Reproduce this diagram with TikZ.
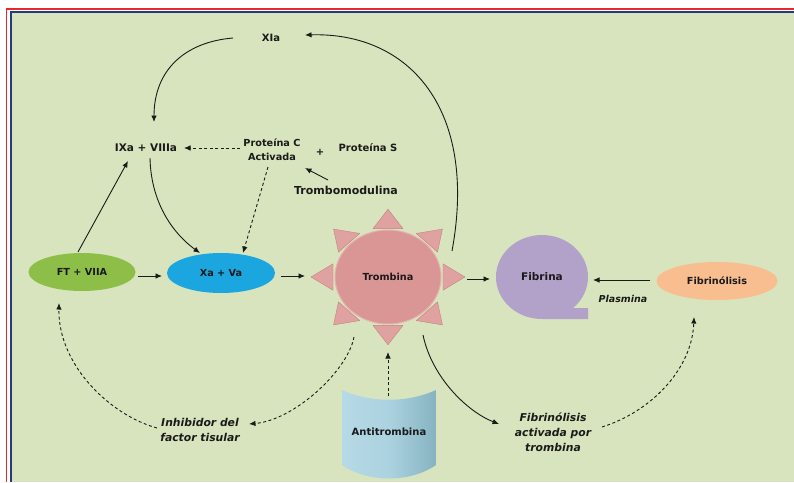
\documentclass[tikz,border=0pt]{standalone}
\usepackage{fontspec}
\setmainfont{DejaVu Sans}
\usetikzlibrary{shapes.geometric,arrows.meta}
\definecolor{bg}{HTML}{D7E4BD}
\definecolor{frred}{HTML}{E8262B}
\definecolor{frblue}{HTML}{1F3D7A}
\definecolor{ftg}{HTML}{8DBE48}
\definecolor{xab}{HTML}{1BA6E0}
\definecolor{trp}{HTML}{D99694}
\definecolor{trpl}{HTML}{E7B1AF}
\definecolor{rayc}{HTML}{E0A2A1}
\definecolor{rayd}{HTML}{C28281}
\definecolor{fib}{HTML}{B2A1C8}
\definecolor{fol}{HTML}{F9BE8F}
\definecolor{atl}{HTML}{B6DAE6}
\definecolor{atm}{HTML}{ABD2DF}
\definecolor{atd}{HTML}{86B3C2}
\definecolor{ink}{HTML}{1A1A1A}
\tikzset{
  lbl/.style={font=\fontsize{10}{11}\selectfont\bfseries, text=ink, inner sep=0pt},
  biglbl/.style={font=\fontsize{11}{12}\selectfont\bfseries, text=ink, inner sep=0pt},
  note/.style={font=\fontsize{10.8}{15}\selectfont\bfseries\itshape, text=ink, inner sep=0pt, align=center},
  smallnote/.style={font=\fontsize{9.5}{11}\selectfont\bfseries\itshape, text=ink, inner sep=0pt},
  oval/.style={ellipse, inner sep=0pt, font=\fontsize{9.7}{11}\selectfont\bfseries, text=ink},
  arr/.style={draw=ink, line width=0.9pt, -{Latex[length=6.5pt,width=5.5pt]}},
  darr/.style={arr, dash pattern=on 3pt off 2.5pt},
  raytri/.style={fill=rayc, draw=rayd, line width=0.4pt, line join=round},
}
\begin{document}
\begin{tikzpicture}[x=1pt,y=1pt]
\useasboundingbox (0,0) rectangle (794,-482);
\fill[white] (0,0) rectangle (794,-482);
% frame
\fill[bg] (12,-13.4) rectangle (794,-482);
\draw[frred, line width=1.6pt] (6.5,-482) -- (6.5,-8.7) -- (794,-8.7);
\draw[frblue, line width=2.4pt] (10.8,-482) -- (10.8,-12.2) -- (794,-12.2);

% text labels
\node[lbl] (xia) at (271,-38) {XIa};
\node[lbl, font=\fontsize{10.5}{11}\selectfont\bfseries] (ix) at (146,-148) {IXa + VIIIa};
\node[lbl, align=center, font=\fontsize{9.7}{14}\selectfont\bfseries] (pc) at (272,-150) {Proteína C\\Activada};
\node[lbl] (plus) at (320,-152) {+};
\node[lbl] (ps) at (368,-148) {Proteína S};
\node[biglbl] (tm) at (346,-190) {Trombomodulina};

% ovals
\node[oval, fill=ftg, minimum width=107pt, minimum height=38pt] (ft) at (82,-272) {FT + VIIA};
\node[oval, fill=xab, minimum width=108pt, minimum height=40pt] (xa) at (221,-273) {Xa + Va};
\node[oval, fill=fol, minimum width=121pt, minimum height=38pt] (fo) at (717,-281) {Fibrinólisis};

% sun (Trombina)
\begin{scope}[shift={(388,-277)}, yscale=0.88]
  \foreach \a in {0,45,...,315}{
    \draw[raytri, rotate=\a] (77,0) -- (55,15) -- (55,-15) -- cycle;
  }
\end{scope}
\node[ellipse, fill=trp, draw=trpl, line width=1pt, minimum width=106pt, minimum height=94pt, inner sep=0pt,
      font=\fontsize{9.7}{11}\selectfont\bfseries, text=ink] (tr) at (388,-277) {Trombina};

% Fibrina shape
\fill[fib] (588,-319) -- (542,-319) arc[start angle=270, end angle=-47.6, x radius=46, y radius=42] -- (588,-308) -- cycle;
\node[lbl, font=\fontsize{10.5}{12}\selectfont\bfseries] (fb) at (542,-277) {Fibrina};

% Antitrombina cylinder
\shade[left color=atl, right color=atd, middle color=atm]
  (342,-390) .. controls (370,-403) and (408,-403) .. (436,-390)
  -- (436,-465) .. controls (410,-483) and (368,-483) .. (342,-465) -- cycle;
\node[lbl] (at) at (389,-432) {Antitrombina};

% notes
\node[note] (itf) at (200,-430) {Inhibidor del\\factor tisular};
\node[note] (fat) at (553,-432) {Fibrinólisis\\activada por\\trombina};
\node[smallnote] (pl) at (623,-299) {Plasmina};

% connector end points
\coordinate (xiaL) at (233,-38);
\coordinate (xiaR) at (305,-35);
\coordinate (ixT) at (154,-122);
\coordinate (ixB) at (150,-158);
\coordinate (ixBL) at (128,-161);
\coordinate (ixR) at (184,-148);
\coordinate (pcL) at (240,-148);
\coordinate (pcB) at (268,-167);
\coordinate (pcBR) at (305,-168);
\coordinate (tmL) at (328,-180);
\coordinate (ftT) at (78,-252);
\coordinate (ftB) at (59,-303);
\coordinate (ftR) at (138,-276);
\coordinate (xaL) at (162,-276);
\coordinate (xaT) at (200,-253);
\coordinate (xaTR) at (243,-253);
\coordinate (xaR) at (281,-276);
\coordinate (trW) at (305,-276);
\coordinate (trE) at (467,-279);
\coordinate (trNE) at (452,-251);
\coordinate (trSW) at (354,-337);
\coordinate (trSE) at (423,-335);
\coordinate (trS) at (388,-352);
\coordinate (atT) at (388,-396);
\coordinate (fbL) at (490,-279);
\coordinate (fbR) at (593,-280);
\coordinate (foL) at (650,-280);
\coordinate (foB) at (694,-317);
\coordinate (itfL) at (157,-428);
\coordinate (itfR) at (249,-424);
\coordinate (fatL) at (499,-424);
\coordinate (fatR) at (602,-427);

% connectors
\draw[arr] (xiaL) .. controls (185,-42) and (154,-70) .. (ixT);
\draw[arr] (trNE) .. controls (478,-110) and (410,-32) .. (xiaR);
\draw[darr] (pcL) -- (ixR);
\draw[arr] (tmL) -- (pcBR);
\draw[darr] (pcB) -- (xaTR);
\draw[arr] (ixB) .. controls (151,-205) and (175,-235) .. (xaT);
\draw[arr] (ftT) -- (ixBL);
\draw[arr] (ftR) -- (xaL);
\draw[arr] (xaR) -- (trW);
\draw[arr] (trE) -- (fbL);
\draw[arr] (foL) -- (fbR);
\draw[darr] (atT) -- (trS);
\draw[darr] (trSW) .. controls (348,-370) and (295,-420) .. (itfR);
\draw[darr] (itfL) .. controls (110,-415) and (58,-365) .. (ftB);
\draw[arr] (trSE) .. controls (432,-378) and (468,-412) .. (fatL);
\draw[darr] (fatR) .. controls (650,-412) and (692,-370) .. (foB);
\end{tikzpicture}
\end{document}
